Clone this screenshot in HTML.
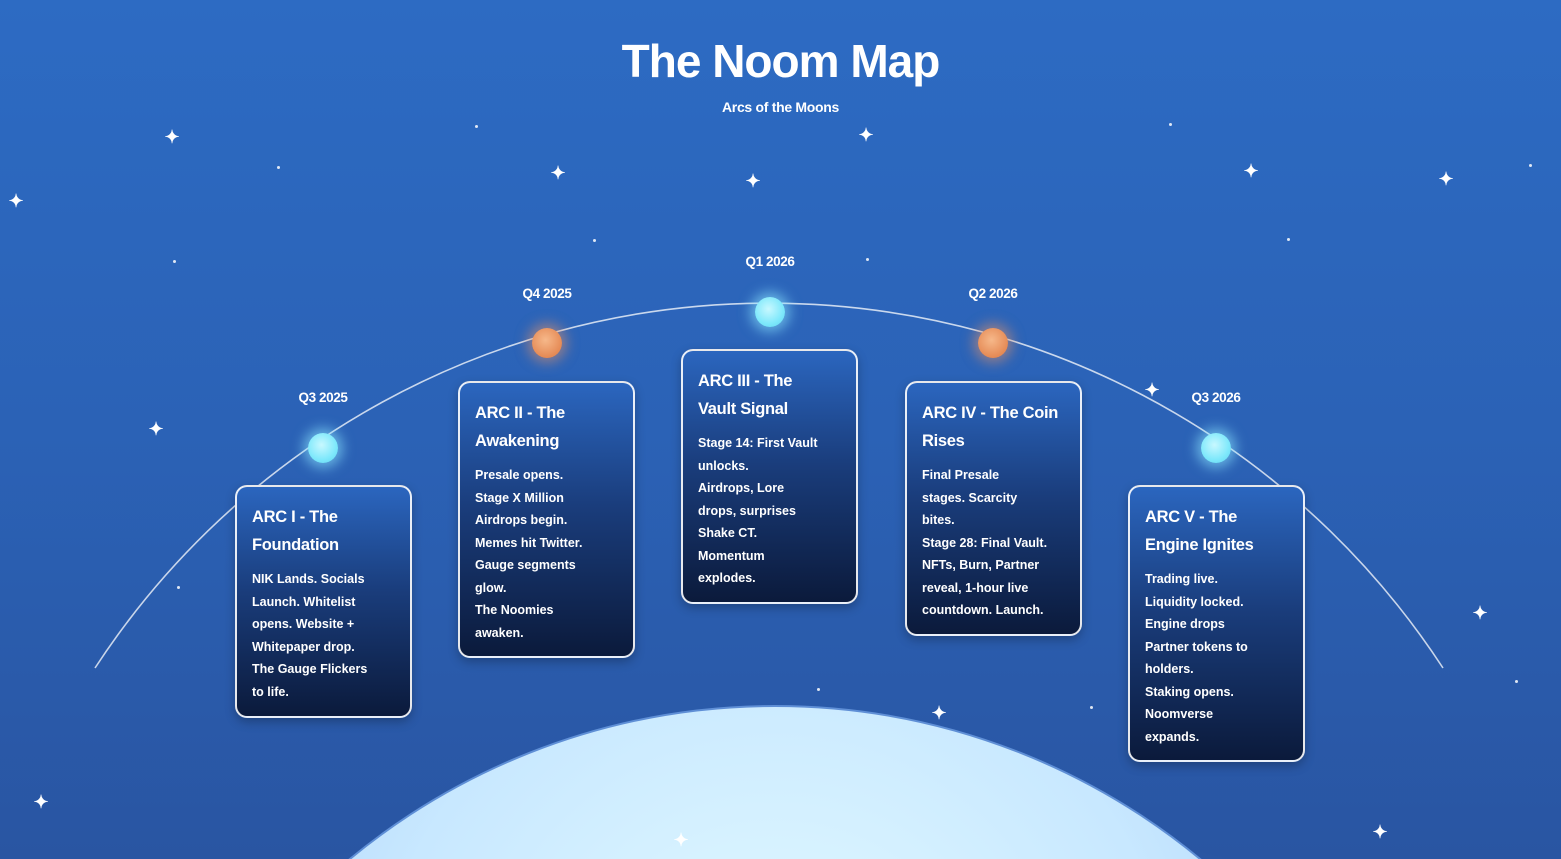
<!DOCTYPE html>
<html><head><meta charset="utf-8"><style>
html,body{margin:0;padding:0;overflow:hidden}
body{width:1561px;height:859px;overflow:hidden;position:relative;background:linear-gradient(180deg,#2d6bc3 0%,#2b62b6 50%,#2955a2 100%);font-family:"Liberation Sans",sans-serif;color:#fff;font-weight:bold}
.abs{position:absolute}
h1{position:absolute;left:0;width:1561px;top:34px;margin:0;text-align:center;font-size:46px;letter-spacing:-1px;font-weight:900}
.sub{position:absolute;left:0;width:1561px;top:99px;text-align:center;font-size:14px;letter-spacing:-0.3px}
.card{position:absolute;width:177px;box-sizing:border-box;border:2px solid rgba(255,255,255,0.9);border-radius:12px;background:linear-gradient(180deg,#2b66bf 0%,#1a3d7c 45%,#0b1a3b 100%);padding:16px 0 0 15px;white-space:nowrap;box-shadow:0 4px 10px rgba(0,0,0,0.25);overflow:hidden}
.card .t{font-size:16.5px;line-height:28px;letter-spacing:-0.3px}
.card .b{font-size:12.5px;line-height:22.5px;margin-top:9px;letter-spacing:0}
.q{position:absolute;font-size:13.5px;width:100px;text-align:center;letter-spacing:-0.4px}
.dot{position:absolute;width:30px;height:30px;border-radius:50%}
.blue{background:radial-gradient(circle at 45% 40%,#c8f8ff,#7ee8fb 60%,#5fd2f0);box-shadow:0 0 12px 5px rgba(140,230,255,0.6)}
.org{background:radial-gradient(circle at 45% 40%,#f6b88a,#e58a55 70%);box-shadow:0 0 12px 5px rgba(240,150,100,0.5)}
.s{position:absolute;color:#fff;font-size:18px;line-height:18px;transform:translate(-50%,-50%)}
.d{position:absolute;width:3px;height:3px;background:#fff;border-radius:50%;opacity:.85}
</style></head><body>
<svg class="abs" style="left:0;top:0" width="1561" height="859">
<defs>
<radialGradient id="pl" cx="0.5" cy="0.25" r="0.6">
<stop offset="0" stop-color="#e4fbff"/><stop offset="0.5" stop-color="#c8e8ff"/><stop offset="1" stop-color="#9cc4f4"/>
</radialGradient>
<radialGradient id="gl" cx="0.5" cy="1" r="0.6">
<stop offset="0" stop-color="#8fb8f0" stop-opacity="0.5"/><stop offset="1" stop-color="#8fb8f0" stop-opacity="0"/>
</radialGradient>
</defs>
<ellipse cx="775" cy="859" rx="700" ry="260" fill="url(#gl)"/>
<circle cx="775" cy="1373" r="667" fill="url(#pl)" stroke="#5f8fd6" stroke-width="2"/>
<path d="M95,668 A805,805 0 0 1 1443,668" fill="none" stroke="rgba(255,255,255,0.75)" stroke-width="1.6"/>
</svg>
<h1>The Noom Map</h1>
<div class="sub">Arcs of the Moons</div>

<div class="q" style="left:273px;top:390px">Q3 2025</div>
<div class="q" style="left:497px;top:286px">Q4 2025</div>
<div class="q" style="left:720px;top:254px">Q1 2026</div>
<div class="q" style="left:943px;top:286px">Q2 2026</div>
<div class="q" style="left:1166px;top:390px">Q3 2026</div>

<div class="dot blue" style="left:308px;top:433px"></div>
<div class="dot org" style="left:532px;top:328px"></div>
<div class="dot blue" style="left:755px;top:297px"></div>
<div class="dot org" style="left:978px;top:328px"></div>
<div class="dot blue" style="left:1201px;top:433px"></div>

<div class="card" style="left:235px;top:485px;height:233px"><div class="t">ARC I - The<br>Foundation</div><div class="b">NIK Lands. Socials<br>Launch. Whitelist<br>opens. Website +<br>Whitepaper drop.<br>The Gauge Flickers<br>to life.</div></div>
<div class="card" style="left:458px;top:381px;height:277px"><div class="t">ARC II - The<br>Awakening</div><div class="b">Presale opens.<br>Stage X Million<br>Airdrops begin.<br>Memes hit Twitter.<br>Gauge segments<br>glow.<br>The Noomies<br>awaken.</div></div>
<div class="card" style="left:681px;top:349px;height:255px"><div class="t">ARC III - The<br>Vault Signal</div><div class="b">Stage 14: First Vault<br>unlocks.<br>Airdrops, Lore<br>drops, surprises<br>Shake CT.<br>Momentum<br>explodes.</div></div>
<div class="card" style="left:905px;top:381px;height:255px"><div class="t">ARC IV - The Coin<br>Rises</div><div class="b">Final Presale<br>stages. Scarcity<br>bites.<br>Stage 28: Final Vault.<br>NFTs, Burn, Partner<br>reveal, 1-hour live<br>countdown. Launch.</div></div>
<div class="card" style="left:1128px;top:485px;height:277px"><div class="t">ARC V - The<br>Engine Ignites</div><div class="b">Trading live.<br>Liquidity locked.<br>Engine drops<br>Partner tokens to<br>holders.<br>Staking opens.<br>Noomverse<br>expands.</div></div>

<div class="s" style="left:172px;top:137px">✦</div>
<div class="s" style="left:16px;top:201px">✦</div>
<div class="s" style="left:558px;top:173px">✦</div>
<div class="s" style="left:866px;top:135px">✦</div>
<div class="s" style="left:753px;top:181px">✦</div>
<div class="s" style="left:1251px;top:171px">✦</div>
<div class="s" style="left:1446px;top:179px">✦</div>
<div class="s" style="left:156px;top:429px">✦</div>
<div class="s" style="left:1152px;top:390px">✦</div>
<div class="s" style="left:1480px;top:613px">✦</div>
<div class="s" style="left:939px;top:713px">✦</div>
<div class="s" style="left:41px;top:802px">✦</div>
<div class="s" style="left:1380px;top:832px">✦</div>
<div class="s" style="left:681px;top:840px">✦</div>
<div class="d" style="left:475px;top:125px"></div>
<div class="d" style="left:277px;top:166px"></div>
<div class="d" style="left:593px;top:239px"></div>
<div class="d" style="left:173px;top:260px"></div>
<div class="d" style="left:866px;top:258px"></div>
<div class="d" style="left:1169px;top:123px"></div>
<div class="d" style="left:1287px;top:238px"></div>
<div class="d" style="left:1529px;top:164px"></div>
<div class="d" style="left:177px;top:586px"></div>
<div class="d" style="left:817px;top:688px"></div>
<div class="d" style="left:1090px;top:706px"></div>
<div class="d" style="left:1515px;top:680px"></div>
</body></html>
